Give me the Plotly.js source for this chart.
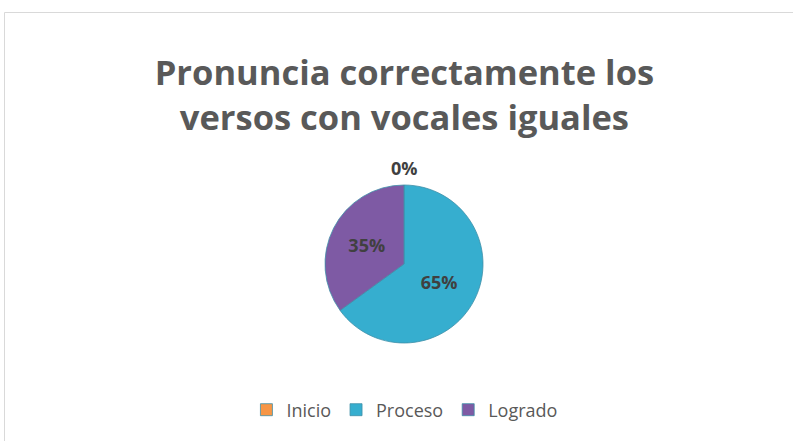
<!DOCTYPE html>
<html>
<head>
<meta charset="utf-8">
<script src="https://cdn.plot.ly/plotly-3.0.1.min.js"></script>
<style>body{margin:0;padding:0;background:#fff;}#chart{width:793px;height:441px;}</style>
</head>
<body>
<div id="chart"></div>
<script>
const categories = ['Inicio', 'Proceso', 'Logrado'];
const values = [0, 65, 35];
const colors = ['#F79646', '#36AECF', '#7E5AA4'];
const chartTitle = 'Pronuncia correctamente los<br>versos con vocales iguales';

const total = values.reduce((a, b) => a + b, 0);
const pct = values.map(v => Math.round(v / total * 100) + '%');

const cx = 404, cy = 264, r = 79, W = 793, H = 441;

const trace = {
  type: 'pie',
  labels: categories,
  values: values,
  sort: false,
  direction: 'clockwise',
  rotation: 0,
  marker: {colors: colors, line: {color: '#3f8fa8', width: 0.8}},
  texttemplate: values.map(v => v > 0 ? '%{percent:.0%}' : ''),
  textposition: 'inside',
  insidetextorientation: 'horizontal',
  textfont: {family: 'Open Sans, sans-serif', size: 18, color: '#404040', weight: 'bold'},
  hoverinfo: 'label+percent',
  domain: {x: [(cx - r) / W, (cx + r) / W], y: [(H - cy - r) / H, (H - cy + r) / H]}
};

const annotations = [];
values.forEach((v, i) => {
  if (v === 0) {
    annotations.push({
      text: '<b>' + pct[i] + '</b>', xref: 'paper', yref: 'paper',
      x: cx / W, y: (H - 168) / H, showarrow: false,
      font: {family: 'Open Sans, sans-serif', size: 18, color: '#404040'}
    });
  }
});

const layout = {
  width: W, height: H,
  margin: {l: 0, r: 0, t: 0, b: 0},
  paper_bgcolor: '#ffffff',
  title: {
    text: '<b>' + chartTitle + '</b>',
    x: 0.51, xanchor: 'center', y: (H - 85) / H, yanchor: 'top',
    font: {family: 'Open Sans, sans-serif', size: 34.5, color: '#595959'}
  },
  showlegend: true,
  legend: {
    orientation: 'h', x: 0.51, xanchor: 'center', y: (H - 410) / H, yanchor: 'middle',
    font: {family: 'Open Sans, sans-serif', size: 18, color: '#595959'},
    traceorder: 'normal'
  },
  annotations: annotations,
  shapes: [{
    type: 'rect', xref: 'paper', yref: 'paper',
    x0: 4.5 / W, x1: 1.05, y0: -0.05, y1: (H - 12.5) / H,
    line: {color: '#d9d9d9', width: 1}, fillcolor: 'rgba(0,0,0,0)', layer: 'below'
  }]
};

Plotly.newPlot('chart', [trace], layout, {displayModeBar: false, staticPlot: true});
</script>
</body>
</html>
